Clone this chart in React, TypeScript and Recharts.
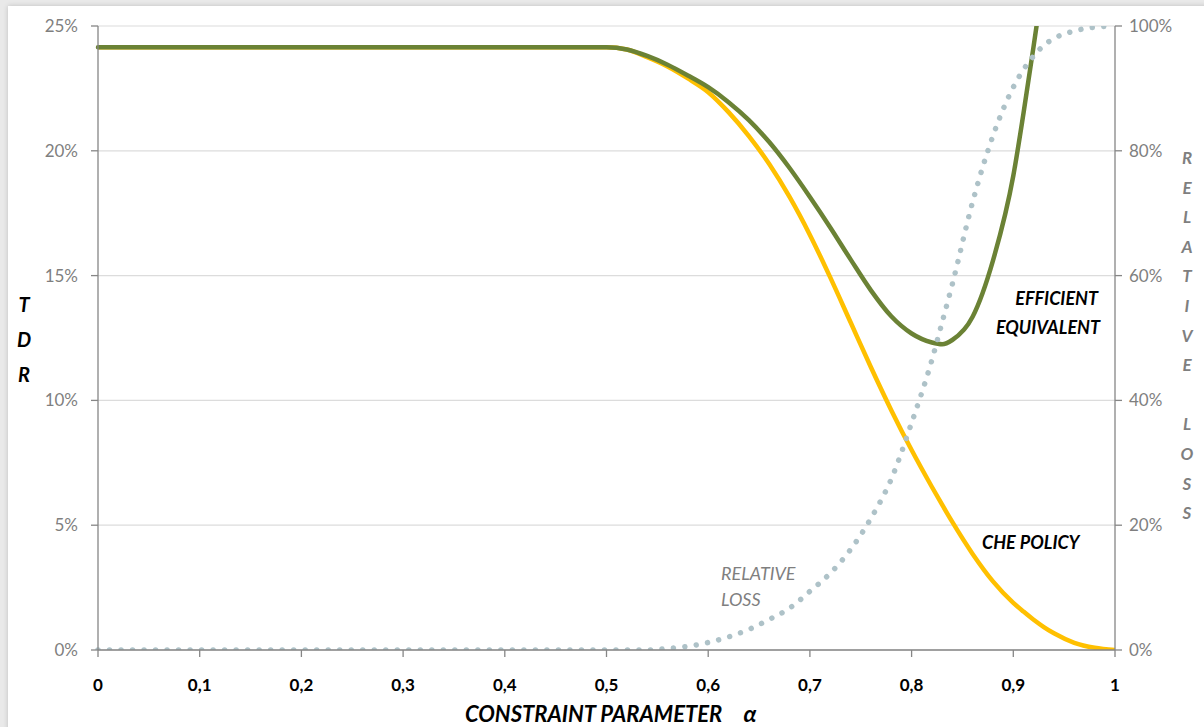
import React from "react";
import { LineChart, Line, XAxis, YAxis, CartesianGrid } from "recharts";

const alpha = [0, 0.1, 0.2, 0.3, 0.4, 0.5, 0.52, 0.54, 0.56, 0.58, 0.6, 0.62, 0.64, 0.66, 0.68, 0.7, 0.72, 0.74, 0.76, 0.78, 0.8, 0.82, 0.83, 0.84, 0.86, 0.88, 0.9, 0.91, 0.92, 0.93, 0.94, 0.96, 0.98, 1];
const efficientTDR: (number | null)[] = [24.15, 24.15, 24.15, 24.15, 24.15, 24.15, 24.06, 23.8, 23.45, 23.02, 22.55, 21.95, 21.23, 20.35, 19.31, 18.15, 16.93, 15.65, 14.41, 13.37, 12.68, 12.32, 12.25, 12.42, 13.35, 15.6, 19.0, 21.5, 24.2, 27.0, 29.8, null, null, null];
const cheTDR = [24.15, 24.15, 24.15, 24.15, 24.15, 24.15, 24.06, 23.75, 23.38, 22.9, 22.35, 21.55, 20.59, 19.47, 18.15, 16.63, 14.93, 13.13, 11.33, 9.61, 8.01, 6.53, 5.82, 5.13, 3.85, 2.75, 1.89, 1.54, 1.21, 0.92, 0.67, 0.29, 0.09, 0];
const relativeLoss = [0, 0, 0, 0, 0, 0, 0, 0, 0.25, 0.6, 1.2, 2.1, 3.3, 4.9, 6.7, 9.4, 12.3, 16.1, 21.1, 27.4, 36.4, 46.5, 52.5, 58.6, 71.8, 82.4, 90.2, 93.0, 95.2, 96.9, 98.0, 99.2, 99.8, 100];

const xTicks = [0, 0.1, 0.2, 0.3, 0.4, 0.5, 0.6, 0.7, 0.8, 0.9, 1];
const leftTicks = [0, 5, 10, 15, 20, 25];
const rightTicks = [0, 20, 40, 60, 80, 100];

const tdrLetters = ["T", "D", "R"];
const rightTitleLetters = ["R", "E", "L", "A", "T", "I", "V", "E", "", "L", "O", "S", "S"];

const data = alpha.map((a, i) => ({
  alpha: a,
  che: cheTDR[i],
  eff: efficientTDR[i],
  loss: relativeLoss[i],
}));

const FONT = "Lato, 'Open Sans', sans-serif";
const AXIS = "#868686";
const GRAY = "#7f7f7f";

export default function App() {
  return (
    <div style={{ position: "absolute", left: 0, top: 0, width: 1204, height: 727, background: "#e9e9e9", overflow: "hidden" }}>
      <div style={{ position: "absolute", left: 8, top: 6, width: 1200, height: 730, background: "#fff", boxShadow: "0 0 5px rgba(0,0,0,0.18)" }} />
      <div style={{ position: "absolute", left: 0, top: 0 }}>
        <LineChart
          width={1204}
          height={727}
          data={data}
          margin={{ top: 26, right: 0, bottom: 0, left: 0 }}
          style={{ fontFamily: FONT }}
        >
          <CartesianGrid vertical={false} stroke="#dcdcdc" strokeWidth={1.2} yAxisId="left" />
          <XAxis
            dataKey="alpha"
            type="number"
            domain={[0, 1]}
            ticks={xTicks}
            tickFormatter={(v: number) => String(v).replace(".", ",")}
            height={77}
            tickSize={7}
            tickMargin={22}
            stroke={AXIS}
            axisLine={{ stroke: AXIS, strokeWidth: 1.3 }}
            tickLine={{ stroke: AXIS, strokeWidth: 1.3 }}
            tick={{ fill: "#000", fontSize: 17, fontWeight: 700, fontFamily: FONT }}
            interval={0}
          />
          <YAxis
            yAxisId="left"
            domain={[0, 25]}
            ticks={leftTicks}
            allowDataOverflow
            tickFormatter={(v: number) => `${v}%`}
            width={98}
            tickSize={7}
            tickMargin={13}
            axisLine={{ stroke: AXIS, strokeWidth: 1.3 }}
            tickLine={{ stroke: AXIS, strokeWidth: 1.3 }}
            tick={{ fill: GRAY, fontSize: 17, fontFamily: FONT }}
            interval={0}
          />
          <YAxis
            yAxisId="right"
            orientation="right"
            domain={[0, 100]}
            ticks={rightTicks}
            allowDataOverflow
            tickFormatter={(v: number) => `${v}%`}
            width={89}
            tickSize={7}
            tickMargin={7}
            axisLine={{ stroke: AXIS, strokeWidth: 1.3 }}
            tickLine={{ stroke: AXIS, strokeWidth: 1.3 }}
            tick={{ fill: GRAY, fontSize: 17, fontFamily: FONT, textAnchor: "start" }}
            interval={0}
          />
          <Line
            yAxisId="left"
            type="monotone"
            dataKey="che"
            stroke="#ffc000"
            strokeWidth={4.5}
            dot={false}
            activeDot={false}
            isAnimationActive={false}
          />
          <Line
            yAxisId="left"
            type="monotone"
            dataKey="eff"
            stroke="#6b8235"
            strokeWidth={4.5}
            strokeLinecap="round"
            dot={false}
            activeDot={false}
            isAnimationActive={false}
          />
          <Line
            yAxisId="right"
            type="monotone"
            dataKey="loss"
            stroke="#aec2c8"
            strokeWidth={5.5}
            strokeLinecap="round"
            strokeDasharray="0.01 11.5"
            dot={false}
            activeDot={false}
            isAnimationActive={false}
          />
        </LineChart>
      </div>
      <svg width={1204} height={727} style={{ position: "absolute", left: 0, top: 0, pointerEvents: "none", fontFamily: FONT }}>
        {tdrLetters.map((l, i) => (
          <text key={"t" + i} x={24} y={312 + i * 35} textAnchor="middle" fontSize={20} fontWeight={700} fontStyle="italic" fill="#000">
            {l}
          </text>
        ))}
        {rightTitleLetters.map((l, i) => (
          <text key={"r" + i} x={1187} y={164 + i * 29.6} textAnchor="middle" fontSize={17} fontWeight={700} fontStyle="italic" fill={GRAY}>
            {l}
          </text>
        ))}
        <text x={465} y={722} fontSize={22} fontWeight={700} fontStyle="italic" fill="#000">
          CONSTRAINT PARAMETER
        </text>
        <text x={750} y={722} textAnchor="middle" fontSize={23} fontWeight={700} fontStyle="italic" fill="#000">
          α
        </text>
        <text x={1098} y={305} textAnchor="end" fontSize={18} fontWeight={700} fontStyle="italic" fill="#000">
          EFFICIENT
        </text>
        <text x={1100} y={334} textAnchor="end" fontSize={18} fontWeight={700} fontStyle="italic" fill="#000">
          EQUIVALENT
        </text>
        <text x={982} y={549} fontSize={18} fontWeight={700} fontStyle="italic" fill="#000">
          CHE POLICY
        </text>
        <text x={721} y={580} fontSize={18} fontStyle="italic" fill={GRAY}>
          RELATIVE
        </text>
        <text x={721} y={606} fontSize={18} fontStyle="italic" fill={GRAY}>
          LOSS
        </text>
      </svg>
    </div>
  );
}
